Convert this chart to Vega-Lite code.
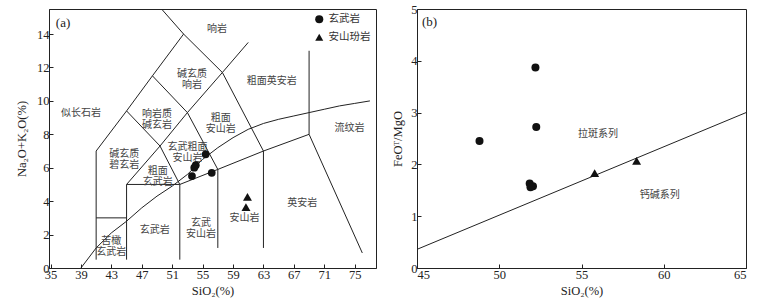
{
  "$schema": "https://vega.github.io/schema/vega-lite/v6.json",
  "padding": {"left": 15, "top": 2, "right": 5, "bottom": 5},
  "spacing": 14,
  "config": {
    "view": {"stroke": "#222", "strokeWidth": 1},
    "axis": {"grid": false, "domainColor": "#222", "tickColor": "#222", "labelColor": "#222", "titleColor": "#222", "labelFont": "Liberation Serif", "labelFontSize": 12.5, "titleFont": "Liberation Serif", "titleFontSize": 12.5, "titleFontWeight": "normal", "tickSize": -4, "labelPadding": 4, "labelOverlap": false, "labelBound": false, "labelSeparation": 0},
    "legend": {"labelFont": "Noto Sans CJK SC", "labelFontSize": 10.5, "labelColor": "#333"}
  },
  "datasets": {
    "tas": [
      {"seg": 1, "o": 1, "x": 41, "y": 0.5}, {"seg": 1, "o": 2, "x": 41, "y": 7},
      {"seg": 2, "o": 1, "x": 41, "y": 3}, {"seg": 2, "o": 2, "x": 45, "y": 3},
      {"seg": 3, "o": 1, "x": 45, "y": 0.5}, {"seg": 3, "o": 2, "x": 45, "y": 5},
      {"seg": 4, "o": 1, "x": 45, "y": 5}, {"seg": 4, "o": 2, "x": 52, "y": 5},
      {"seg": 5, "o": 1, "x": 52, "y": 0.5}, {"seg": 5, "o": 2, "x": 52, "y": 5},
      {"seg": 6, "o": 1, "x": 52, "y": 5}, {"seg": 6, "o": 2, "x": 57, "y": 5.9}, {"seg": 6, "o": 3, "x": 63, "y": 7}, {"seg": 6, "o": 4, "x": 69, "y": 8},
      {"seg": 7, "o": 1, "x": 57, "y": 1.2}, {"seg": 7, "o": 2, "x": 57, "y": 5.9},
      {"seg": 8, "o": 1, "x": 63, "y": 1.2}, {"seg": 8, "o": 2, "x": 63, "y": 7},
      {"seg": 9, "o": 1, "x": 69, "y": 8}, {"seg": 9, "o": 2, "x": 69, "y": 13},
      {"seg": 10, "o": 1, "x": 69, "y": 8}, {"seg": 10, "o": 2, "x": 76, "y": 0.9},
      {"seg": 11, "o": 1, "x": 45, "y": 5}, {"seg": 11, "o": 2, "x": 49.4, "y": 7.3}, {"seg": 11, "o": 3, "x": 53, "y": 9.3}, {"seg": 11, "o": 4, "x": 57.6, "y": 11.7}, {"seg": 11, "o": 5, "x": 61, "y": 13.5},
      {"seg": 12, "o": 1, "x": 41, "y": 7}, {"seg": 12, "o": 2, "x": 45, "y": 9.4}, {"seg": 12, "o": 3, "x": 48.4, "y": 11.5}, {"seg": 12, "o": 4, "x": 52.5, "y": 14},
      {"seg": 13, "o": 1, "x": 45, "y": 9.4}, {"seg": 13, "o": 2, "x": 49.4, "y": 7.3}, {"seg": 13, "o": 3, "x": 52, "y": 5},
      {"seg": 14, "o": 1, "x": 48.4, "y": 11.5}, {"seg": 14, "o": 2, "x": 53, "y": 9.3}, {"seg": 14, "o": 3, "x": 57, "y": 5.9},
      {"seg": 15, "o": 1, "x": 52.5, "y": 14}, {"seg": 15, "o": 2, "x": 57.6, "y": 11.7}, {"seg": 15, "o": 3, "x": 63, "y": 7},
      {"seg": 16, "o": 1, "x": 52.5, "y": 14}, {"seg": 16, "o": 2, "x": 49.6, "y": 15.5},
      {"seg": 17, "o": 1, "x": 39, "y": 0}, {"seg": 17, "o": 2, "x": 41, "y": 1.2}, {"seg": 17, "o": 3, "x": 43, "y": 2.1}, {"seg": 17, "o": 4, "x": 45, "y": 2.8},
      {"seg": 17, "o": 5, "x": 47, "y": 3.6}, {"seg": 17, "o": 6, "x": 49, "y": 4.3}, {"seg": 17, "o": 7, "x": 51, "y": 4.9}, {"seg": 17, "o": 8, "x": 53, "y": 5.6},
      {"seg": 17, "o": 9, "x": 55, "y": 6.5}, {"seg": 17, "o": 10, "x": 57, "y": 7.2}, {"seg": 17, "o": 11, "x": 59, "y": 7.8}, {"seg": 17, "o": 12, "x": 61, "y": 8.3},
      {"seg": 17, "o": 13, "x": 63, "y": 8.65}, {"seg": 17, "o": 14, "x": 65, "y": 8.9}, {"seg": 17, "o": 15, "x": 67, "y": 9.1}, {"seg": 17, "o": 16, "x": 69, "y": 9.3},
      {"seg": 17, "o": 17, "x": 71, "y": 9.5}, {"seg": 17, "o": 18, "x": 73, "y": 9.7}, {"seg": 17, "o": 19, "x": 75, "y": 9.85}, {"seg": 17, "o": 20, "x": 77, "y": 10.0}
    ],
    "tasLabels": [
      {"t": "响岩", "x": 56.9, "y": 14.3},
      {"t": "碱玄质\n响岩", "x": 53.6, "y": 11.6},
      {"t": "粗面英安岩", "x": 64.1, "y": 11.2},
      {"t": "似长石岩", "x": 39.0, "y": 9.3},
      {"t": "响岩质\n碱玄岩", "x": 49.0, "y": 9.2},
      {"t": "粗面\n安山岩", "x": 57.4, "y": 9.0},
      {"t": "流纹岩", "x": 74.3, "y": 8.4},
      {"t": "玄武粗面\n安山岩", "x": 53.0, "y": 7.25},
      {"t": "碱玄质\n碧玄岩", "x": 44.7, "y": 6.8},
      {"t": "粗面\n玄武岩", "x": 49.1, "y": 5.8},
      {"t": "玄武岩", "x": 48.7, "y": 2.3},
      {"t": "玄武\n安山岩", "x": 54.8, "y": 2.7},
      {"t": "安山岩", "x": 60.5, "y": 3.0},
      {"t": "英安岩", "x": 68.1, "y": 3.9},
      {"t": "苦橄\n玄武岩", "x": 43.0, "y": 1.6}
    ],
    "tasPts": [
      {"rock": "玄武岩", "x": 55.4, "y": 6.8},
      {"rock": "玄武岩", "x": 54.1, "y": 6.15},
      {"rock": "玄武岩", "x": 53.9, "y": 6.0},
      {"rock": "玄武岩", "x": 53.6, "y": 5.5},
      {"rock": "玄武岩", "x": 56.2, "y": 5.7},
      {"rock": "安山玢岩", "x": 60.9, "y": 4.25},
      {"rock": "安山玢岩", "x": 60.7, "y": 3.65}
    ],
    "fmPts": [
      {"rock": "玄武岩", "x": 52.2, "y": 3.87},
      {"rock": "玄武岩", "x": 52.25, "y": 2.72},
      {"rock": "玄武岩", "x": 48.8, "y": 2.45},
      {"rock": "玄武岩", "x": 51.85, "y": 1.63},
      {"rock": "玄武岩", "x": 52.05, "y": 1.58},
      {"rock": "玄武岩", "x": 51.9, "y": 1.56},
      {"rock": "安山玢岩", "x": 55.8, "y": 1.83},
      {"rock": "安山玢岩", "x": 58.35, "y": 2.07}
    ],
    "fmLine": [
      {"x": 45, "y": 0.36},
      {"x": 65, "y": 3.0}
    ],
    "fmLabels": [
      {"t": "拉斑系列", "x": 56.0, "y": 2.58},
      {"t": "钙碱系列", "x": 59.75, "y": 1.41}
    ]
  },
  "resolve": {"scale": {"shape": "independent", "x": "independent", "y": "independent"}, "legend": {"shape": "independent"}},
  "hconcat": [
    {
      "width": 327,
      "height": 259,
      "encoding": {
        "x": {"field": "x", "type": "quantitative", "scale": {"domain": [34.8, 77.8], "nice": false, "zero": false}, "axis": {"values": [35, 39, 43, 47, 51, 55, 59, 63, 67, 71, 75], "labelOverlap": false, "title": "SiO₂(%)", "titlePadding": 4}},
        "y": {"field": "y", "type": "quantitative", "scale": {"domain": [0, 15.5], "nice": false}, "axis": {"values": [0, 2, 4, 6, 8, 10, 12, 14], "labelOverlap": false, "title": "Na₂O+K₂O(%)", "titlePadding": 8}}
      },
      "layer": [
        {
          "data": {"name": "tas"},
          "mark": {"type": "line", "stroke": "#222", "strokeWidth": 1, "clip": true},
          "encoding": {
            "detail": {"field": "seg"},
            "order": {"field": "o"}
          }
        },
        {
          "data": {"name": "tasLabels"},
          "mark": {"type": "text", "font": "Noto Sans CJK SC", "fontSize": 10, "fill": "#444", "lineBreak": "\n", "lineHeight": 11, "baseline": "middle"},
          "encoding": {
            "text": {"field": "t"}
          }
        },
        {
          "data": {"values": [{"t": "(a)", "x": 35.7, "y": 14.65}]},
          "mark": {"type": "text", "font": "Liberation Serif", "fontSize": 13, "fill": "#222", "align": "left", "baseline": "middle"},
          "encoding": {
            "text": {"field": "t"}
          }
        },
        {
          "data": {"name": "tasPts"},
          "mark": {"type": "point", "filled": true, "opacity": 1, "color": "#111"},
          "encoding": {
            "shape": {"field": "rock", "type": "nominal", "scale": {"domain": ["玄武岩", "安山玢岩"], "range": ["circle", "triangle-up"]}, "legend": {"title": null, "orient": "top-right", "offset": 5, "symbolSize": 65, "symbolFillColor": "#111", "symbolStrokeColor": "#111", "rowPadding": 3, "labelOffset": 4}},
            "size": {"condition": {"test": "datum.rock === '安山玢岩'", "value": 80}, "value": 60}
          }
        }
      ]
    },
    {
      "width": 329,
      "height": 259,
      "encoding": {
        "x": {"field": "x", "type": "quantitative", "scale": {"domain": [45, 65], "nice": false, "zero": false}, "axis": {"values": [45, 50, 55, 60, 65], "labelOverlap": false, "title": "SiO₂(%)", "titlePadding": 4}},
        "y": {"field": "y", "type": "quantitative", "scale": {"domain": [0, 5], "nice": false}, "axis": {"values": [0, 1, 2, 3, 4, 5], "labelOverlap": false, "title": "FeOᵀ/MgO", "titlePadding": 6}}
      },
      "layer": [
        {
          "data": {"name": "fmLine"},
          "mark": {"type": "line", "stroke": "#222", "strokeWidth": 1},
          "encoding": {}
        },
        {
          "data": {"name": "fmLabels"},
          "mark": {"type": "text", "font": "Noto Sans CJK SC", "fontSize": 10, "fill": "#444", "baseline": "middle"},
          "encoding": {
            "text": {"field": "t"}
          }
        },
        {
          "data": {"values": [{"t": "(b)", "x": 45.3, "y": 4.75}]},
          "mark": {"type": "text", "font": "Liberation Serif", "fontSize": 13, "fill": "#222", "align": "left", "baseline": "middle"},
          "encoding": {
            "text": {"field": "t"}
          }
        },
        {
          "data": {"name": "fmPts"},
          "mark": {"type": "point", "filled": true, "opacity": 1, "color": "#111"},
          "encoding": {
            "shape": {"field": "rock", "type": "nominal", "scale": {"domain": ["玄武岩", "安山玢岩"], "range": ["circle", "triangle-up"]}, "legend": null},
            "size": {"condition": {"test": "datum.rock === '安山玢岩'", "value": 80}, "value": 64}
          }
        }
      ]
    }
  ]
}
